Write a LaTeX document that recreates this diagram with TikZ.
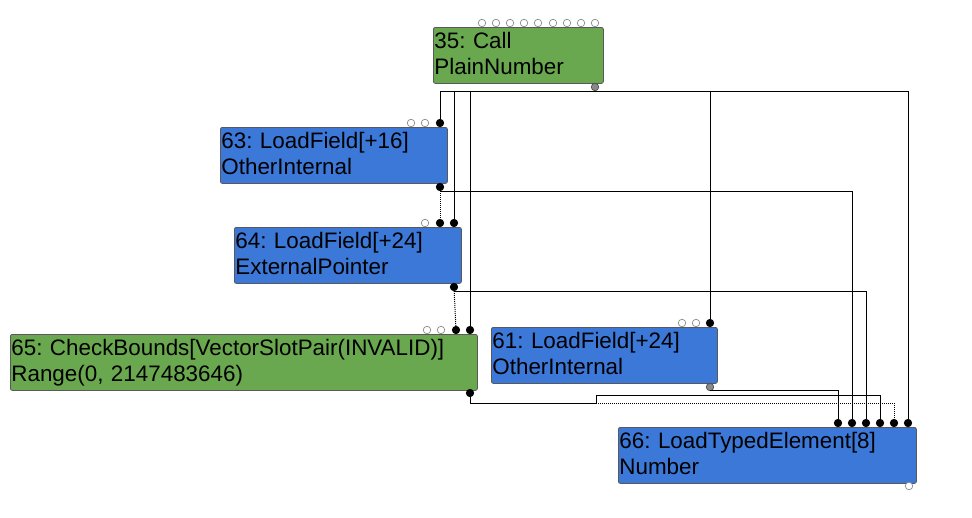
\documentclass[tikz,border=0pt]{standalone}
\usepackage{fontspec}
\setmainfont{Liberation Sans}
\usetikzlibrary{positioning,calc}
\frenchspacing

\definecolor{opgreen}{HTML}{6AA84F}
\definecolor{opblue}{HTML}{3C78D8}
\definecolor{portgray}{HTML}{8A8A8A}

% first line strut, a bit taller than \strut
\newcommand{\topstrut}{\rule{0pt}{20pt}}

\tikzset{
  op/.style={draw=gray!70!black, line width=0.8pt, rounded corners=2pt,
    anchor=north west, align=left, inner xsep=1pt, inner ysep=0pt,
    minimum height=56pt, font=\fontsize{22.4}{25.5}\selectfont},
  port/.style={circle, draw=portgray, line width=0.7pt, fill=white,
    inner sep=0pt, minimum size=7.5pt},
  used/.style={port, draw=black, fill=black},
  gport/.style={port, draw=gray!60!black, fill=portgray},
  wire/.style={line width=1pt, black},
  dep/.style={wire, dash pattern=on 1pt off 1pt},
}

\begin{document}
\begin{tikzpicture}[x=1pt, y=-1pt]
    \useasboundingbox (0,0) rectangle (972,517);

    % boxes
    \node[op, fill=opgreen, text width=168pt] (n35) at (433,27) {\topstrut 35: Call\\\strut PlainNumber};
    \node[op, fill=opblue, text width=225pt] (n63) at (220,127) {\topstrut 63: LoadField[+16]\\\strut OtherInternal};
    \node[op, fill=opblue, text width=225pt] (n64) at (234,227) {\topstrut 64: LoadField[+24]\\\strut ExternalPointer};
    \node[op, fill=opgreen, text width=465pt] (n65) at (10,334) {\topstrut 65: CheckBounds[VectorSlotPair(INVALID)]\\\strut Range(0, 2147483646)};
    \node[op, fill=opblue, text width=224pt] (n61) at (491,327) {\topstrut 61: LoadField[+24]\\\strut OtherInternal};
    \node[op, fill=opblue, text width=296pt] (n66) at (618,427) {\topstrut 66: LoadTypedElement[8]\\\strut Number};

    % ports of 35
    \foreach \x [count=\i] in {482,496,510,524,538,553,567,581,595}
        \node[port] (n35i\i) at (\x,23) {};
    \node[gport] (n35o) at (595,87) {};

    % ports of 63
    \node[port] (n63i1) at (411,123) {};
    \node[port] (n63i2) at (425,123) {};
    \node[used] (n63i3) at (440,123) {};
    \node[used] (n63o) at (440,187) {};

    % ports of 64
    \node[port] (n64i1) at (425,223) {};
    \node[used] (n64i2) at (440,223) {};
    \node[used] (n64i3) at (454,223) {};
    \node[used] (n64o) at (454,287) {};

    % ports of 65
    \node[port] (n65i1) at (427,330) {};
    \node[port] (n65i2) at (441,330) {};
    \node[used] (n65i3) at (456,330) {};
    \node[used] (n65i4) at (470,330) {};
    \node[used] (n65o) at (470,393) {};

    % ports of 61
    \node[port] (n61i1) at (682,323) {};
    \node[port] (n61i2) at (696,323) {};
    \node[used] (n61i3) at (710,323) {};
    \node[gport] (n61o) at (710,387) {};

    % ports of 66
    \foreach \x [count=\i] in {838,852,866,880,894,908}
        \node[used] (n66i\i) at (\x,423) {};
    \node[port] (n66o) at (909,486) {};

    % rails
    \coordinate (r35) at (0,91);
    \coordinate (r63) at (0,191);
    \coordinate (r64) at (0,291);
    \coordinate (r61) at (0,390);
    \coordinate (r65) at (0,395);
    \coordinate (k65) at (596,403);

    % from 35
    \draw[wire] (n35o) |- (n63i3 |- r35) -- (n63i3);
    \draw[wire] (n35o) |- (n64i3 |- r35) -- (n64i3);
    \draw[wire] (n35o) |- (n65i4 |- r35) -- (n65i4);
    \draw[wire] (n35o) |- (n61i3 |- r35) -- (n61i3);
    \draw[wire] (n35o) |- (n66i6 |- r35) -- (n66i6);

    % from 63
    \draw[dep] (n63o) -- (n64i2);
    \draw[wire] (n63o) |- (n66i2 |- r63) -- (n66i2);

    % from 64
    \draw[dep] (n64o) -- (n65i3);
    \draw[wire] (n64o) |- (n66i3 |- r64) -- (n66i3);

    % from 61
    \draw[wire] (n61o) |- (n66i1 |- r61) -- (n66i1);

    % from 65
    \draw[wire] (n65o) |- (k65) |- (n66i4 |- r65) -- (n66i4);
    \draw[dep] (n65o) |- (n66i5 |- k65) -- (n66i5);
\end{tikzpicture}
\end{document}
